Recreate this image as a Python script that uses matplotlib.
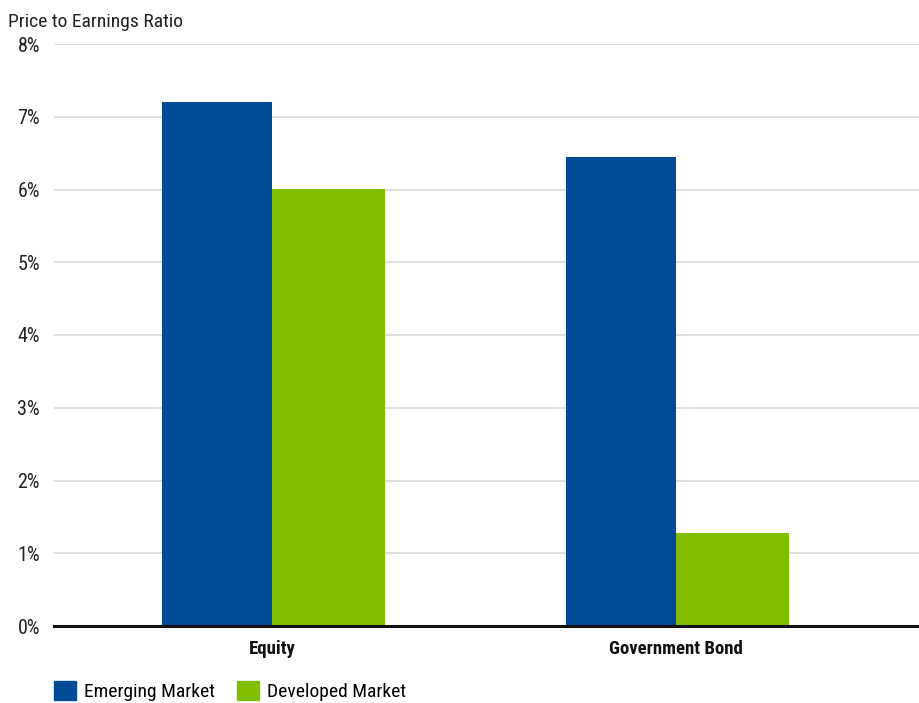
import matplotlib.pyplot as plt
from matplotlib.patches import Patch
from matplotlib import font_manager

categories = ['Equity', 'Government Bond']
emerging = [7.2, 6.44]
developed = [6.01, 1.28]
y_ticks = [0, 1, 2, 3, 4, 5, 6, 7, 8]
y_labels = ['0%', '1%', '2%', '3%', '4%', '5%', '6%', '7%', '8%']

blue = '#004B96'
green = '#80BC00'

# condensed face if there is one
names = {f.name for f in font_manager.fontManager.ttflist}
cond = [n for n in ['Liberation Sans Narrow', 'Roboto Condensed', 'Open Sans Condensed',
                    'DejaVu Sans Condensed'] if n in names]
plt.rcParams['font.family'] = cond + ['DejaVu Sans']
plt.rcParams['font.stretch'] = 'condensed'

fig = plt.figure(figsize=(9.19, 7.03), dpi=100)
ax = fig.add_axes([54 / 919, 77 / 703, 865 / 919, 582 / 703])

x = list(range(len(categories)))
ax.bar(x, emerging, width=-0.273, align='edge', color=blue, zorder=3)
ax.bar(x, developed, width=0.28, align='edge', color=green, zorder=3)

ax.set_xlim(-0.54, 1.601)
ax.set_ylim(0, 8)
ax.set_yticks(y_ticks)
ax.set_yticklabels(y_labels, fontsize=14.5, color='#222222')
ax.set_xticks(x)
ax.set_xticklabels(categories, fontsize=13.5, fontweight='bold', color='#111111')
ax.tick_params(axis='y', length=0, pad=10)
ax.tick_params(axis='x', length=0, pad=10)
ax.grid(axis='y', color='#d9d9d9', linewidth=1.2, zorder=0)
for s in ['top', 'right', 'left']:
    ax.spines[s].set_visible(False)
ax.spines['bottom'].set_linewidth(2.2)
ax.spines['bottom'].set_color('#111111')
ax.spines['bottom'].set_zorder(4)

fig.text(8 / 919, 1 - 22 / 703, 'Price to Earnings Ratio', fontsize=14,
         color='#222222', va='center', ha='left')

handles = [Patch(color=blue, label='Emerging Market'),
           Patch(color=green, label='Developed Market')]
fig.legend(handles=handles, loc='center left', ncol=2, frameon=False,
           bbox_to_anchor=(54 / 919, 1 - 691 / 703), fontsize=14,
           handlelength=1.13, handleheight=1.1, handletextpad=0.4,
           columnspacing=1.15, borderpad=0, borderaxespad=0)

fig.savefig('out.png', dpi=100)
